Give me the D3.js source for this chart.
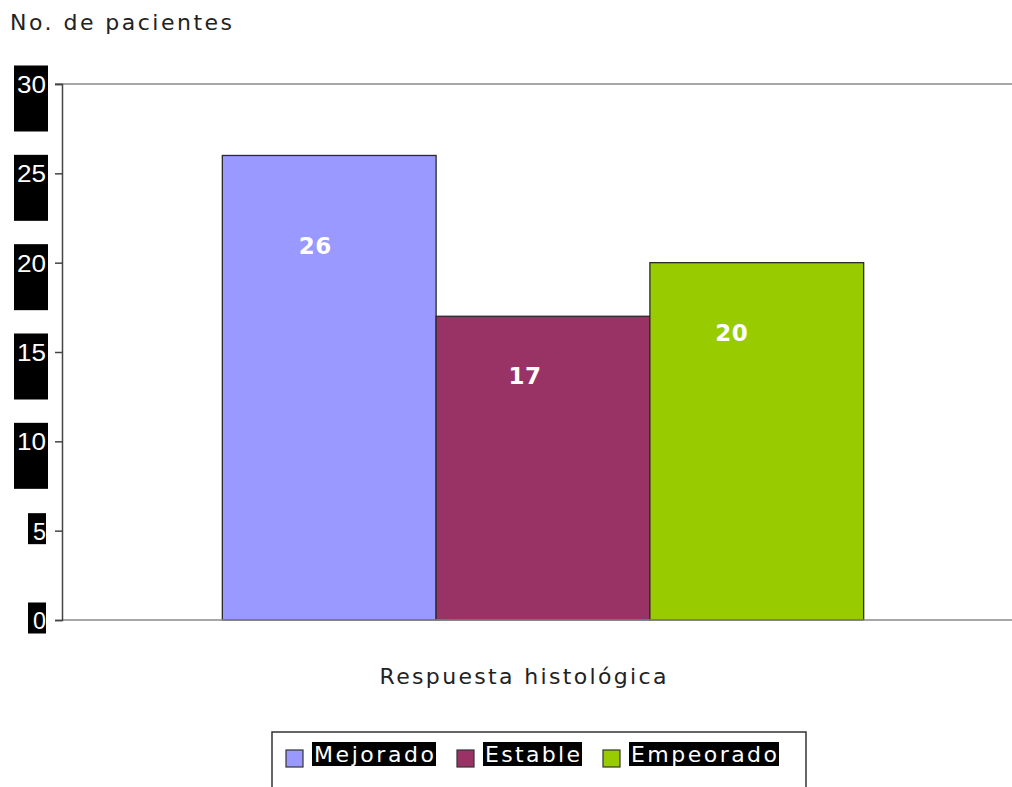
<!DOCTYPE html>
<html>
<head>
<meta charset="utf-8">
<script src="https://cdn.jsdelivr.net/npm/d3@7"></script>
<style>
  html, body { margin: 0; padding: 0; background: #fff; }
  svg { display: block; font-family: "DejaVu Sans", Verdana, sans-serif; }
</style>
</head>
<body>
<svg id="chart" width="1012" height="787"></svg>
<script>
// Chart data
const categories = ["Respuesta histológica"];
const seriesNames = ["Mejorado", "Estable", "Empeorado"];
const seriesValues = [26, 17, 20];
const seriesColors = ["#9999ff", "#993366", "#99cc00"];
const yTicks = [0, 5, 10, 15, 20, 25, 30];
const yTitle = "No. de pacientes";

// Value labels sit slightly left of each bar's centre
const labelShift = [14, 18, 25];

const svg = d3.select("#chart");
const margin = { left: 62, right: -12, top: 84, bottom: 167 };
const W = 1012, H = 787;
const plotW = W - margin.left - margin.right;
const plotH = H - margin.top - margin.bottom;

const x = d3.scaleBand().domain(categories).range([margin.left, margin.left + plotW])
  .paddingInner(0).paddingOuter(0.25);
const xs = d3.scaleBand().domain(seriesNames).range([0, x.bandwidth()]).padding(0);
const y = d3.scaleLinear().domain([0, 30]).range([margin.top + plotH, margin.top]);

// Top border of the plot area
svg.append("line")
  .attr("x1", margin.left - 7).attr("x2", W)
  .attr("y1", y(30)).attr("y2", y(30))
  .attr("stroke", "#8a8a8a").attr("stroke-width", 1.5);

// Bars
const g = svg.append("g");
categories.forEach(cat => {
  seriesNames.forEach((s, i) => {
    const x0 = x(cat) + xs(s);
    g.append("rect")
      .attr("x", x0).attr("y", y(seriesValues[i]))
      .attr("width", xs.bandwidth()).attr("height", y(0) - y(seriesValues[i]))
      .attr("fill", seriesColors[i])
      .attr("stroke", "#2a2a2a").attr("stroke-width", 1.3);
    g.append("text")
      .attr("x", x0 + xs.bandwidth() / 2 - labelShift[i])
      .attr("y", y(seriesValues[i] * 0.805))
      .attr("dy", "0.36em")
      .attr("text-anchor", "middle")
      .attr("fill", "#fff").attr("font-weight", "bold")
      .attr("font-size", 23).attr("letter-spacing", 0.5)
      .text(seriesValues[i]);
  });
});

// Baseline
svg.append("line")
  .attr("x1", margin.left).attr("x2", W)
  .attr("y1", y(0)).attr("y2", y(0))
  .attr("stroke", "#8a8a8a").attr("stroke-width", 1.5);

// Y axis
const yAxis = svg.append("g")
  .attr("transform", `translate(${margin.left},0)`)
  .call(d3.axisLeft(y).tickValues(yTicks).tickSize(7).tickPadding(0).tickFormat(() => ""));
yAxis.select(".domain").attr("stroke", "#444").attr("stroke-width", 1.5);
yAxis.selectAll(".tick line").attr("stroke", "#444").attr("stroke-width", 1.5);

// Tick labels on black boxes
yAxis.selectAll(".tick").each(function(d) {
  const t = d3.select(this);
  const label = String(d);
  const wide = label.length > 1;
  t.insert("rect", ":first-child")
    .attr("x", wide ? -48 : -34).attr("y", wide ? -19 : -18)
    .attr("width", wide ? 34 : 18).attr("height", wide ? 66 : 31)
    .attr("fill", "#000");
  t.append("text")
    .attr("x", -16).attr("y", 0).attr("dy", "0.36em")
    .attr("text-anchor", "end")
    .attr("fill", "#fff").attr("font-size", 24)
    .attr("textLength", wide ? 29 : 13).attr("lengthAdjust", "spacingAndGlyphs")
    .text(label);
});

// Axis titles
svg.append("text")
  .attr("x", 10).attr("y", 30)
  .attr("font-size", 22).attr("fill", "#222")
  .attr("textLength", 222).attr("lengthAdjust", "spacing")
  .text(yTitle);

svg.append("text")
  .attr("x", 523).attr("y", 684)
  .attr("text-anchor", "middle")
  .attr("font-size", 22).attr("fill", "#222")
  .attr("textLength", 287).attr("lengthAdjust", "spacing")
  .text(categories[0]);

// Legend
const legend = svg.append("g");
legend.append("rect")
  .attr("x", 272).attr("y", 732).attr("width", 534).attr("height", 70)
  .attr("fill", "#fff").attr("stroke", "#333").attr("stroke-width", 1.5);

const legendStarts = [286, 457, 603];
const legendTextW = [120, 95, 146];
seriesNames.forEach((s, i) => {
  const lx = legendStarts[i];
  legend.append("rect")
    .attr("x", lx).attr("y", 750).attr("width", 17).attr("height", 17)
    .attr("fill", seriesColors[i]).attr("stroke", "#333").attr("stroke-width", 1.2);
  legend.append("rect")
    .attr("x", lx + 26).attr("y", 742).attr("width", legendTextW[i] + 4).attr("height", 24)
    .attr("fill", "#000");
  legend.append("text")
    .attr("x", lx + 28).attr("y", 754).attr("dy", "0.36em")
    .attr("font-size", 22).attr("fill", "#fff")
    .attr("textLength", legendTextW[i]).attr("lengthAdjust", "spacing")
    .text(s);
});
</script>
</body>
</html>
